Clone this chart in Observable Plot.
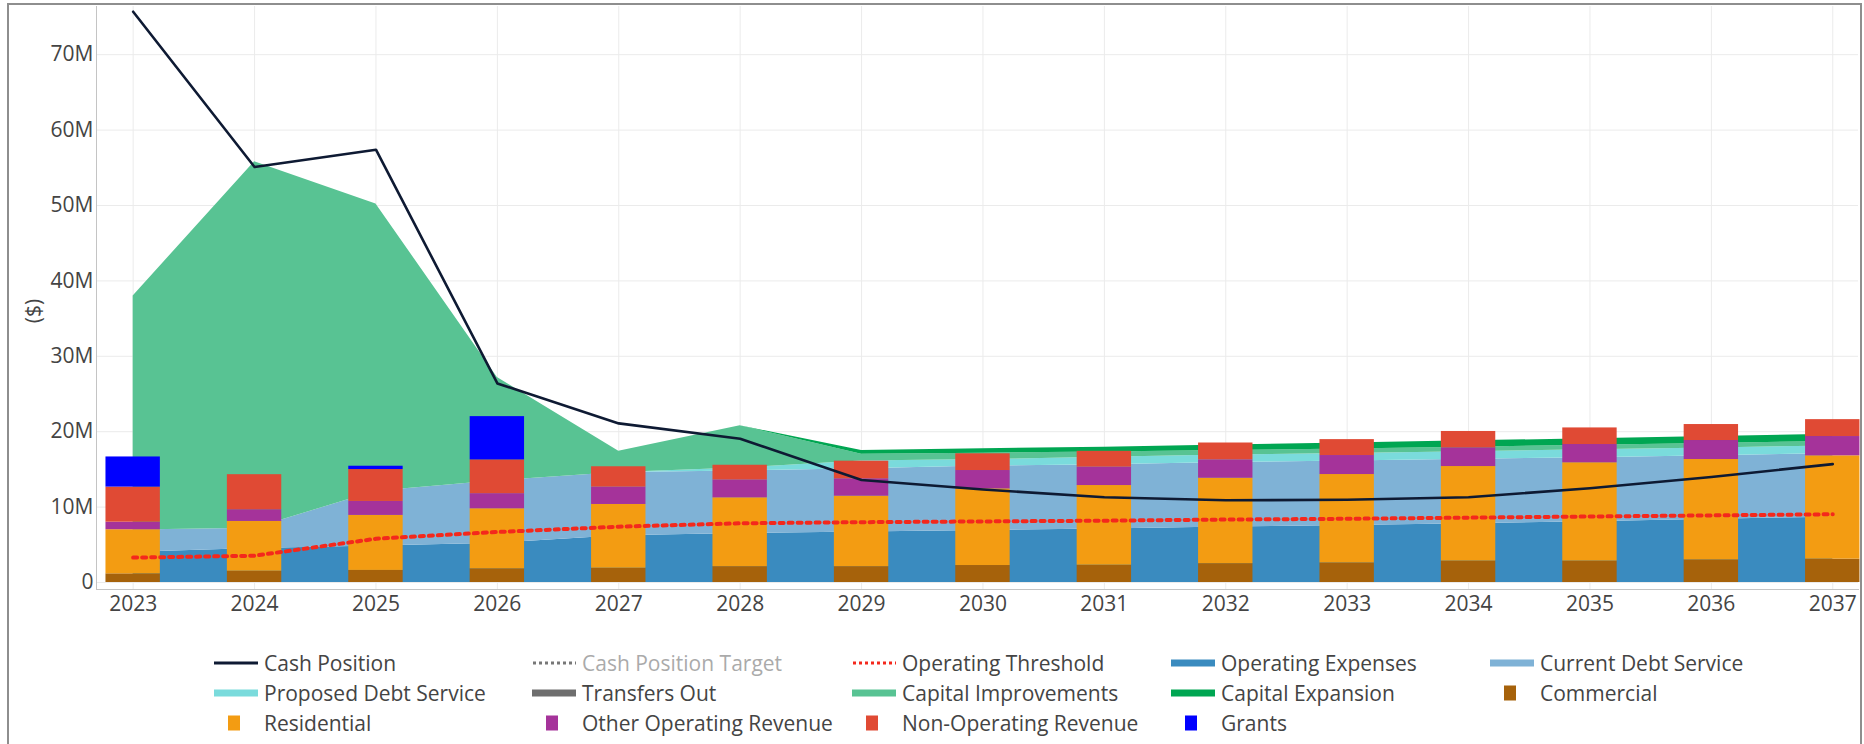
<!DOCTYPE html>
<html>
<head>
<meta charset="utf-8">
<script src="https://cdn.jsdelivr.net/npm/d3@7"></script>
<script src="https://cdn.jsdelivr.net/npm/@observablehq/plot@0.6"></script>
<style>
  html, body { margin: 0; padding: 0; background: #fff; }
  body { width: 1864px; height: 744px; position: relative; overflow: hidden; font-family: "Open Sans", sans-serif; }
  #frame { position: absolute; left: 7px; top: 3px; width: 1855px; height: 800px; border: 2px solid #8e8e8e; box-sizing: border-box; }
  #chart { position: absolute; left: 0; top: 0; }
  #ylabel { position: absolute; left: 33px; top: 311px; transform: translate(-50%, -50%) rotate(-90deg); font-size: 21px; color: #444; white-space: nowrap; }
  .item { position: absolute; height: 30px; display: flex; align-items: center; font-size: 21px; color: #444; white-space: nowrap; }
  .item svg { flex: none; }
</style>
</head>
<body>
<div id="frame"></div>
<div id="chart"></div>
<div id="ylabel">($)</div>
<div id="legend"></div>
<script>
// ---------- data (millions of $) ----------
const years = [2023, 2024, 2025, 2026, 2027, 2028, 2029, 2030, 2031, 2032, 2033, 2034, 2035, 2036, 2037];

// stacked area series (expenses / uses)
const operatingExpenses   = [4.0, 4.5, 4.85, 5.2, 6.2, 6.5, 6.7, 6.9, 7.1, 7.35, 7.55, 7.8, 8.05, 8.4, 8.65];
const currentDebtService  = [2.95, 2.7, 7.25, 8.3, 8.4, 8.3, 8.4, 8.55, 8.5, 8.55, 8.55, 8.55, 8.5, 8.4, 8.45];
const proposedDebtService = [0, 0, 0, 0, 0, 0.4, 1.0, 0.85, 1.0, 1.0, 1.0, 1.0, 1.05, 1.05, 1.0];
const transfersOut        = [0, 0, 0, 0, 0, 0, 0, 0, 0, 0, 0, 0, 0, 0, 0];
const capitalImprovements = [31.05, 48.6, 38.1, 13.7, 2.8, 5.6, 0.9, 0.85, 0.7, 0.6, 0.6, 0.6, 0.6, 0.6, 0.6];
const capitalExpansion    = [0, 0, 0, 0, 0, 0, 0.5, 0.6, 0.65, 0.75, 0.8, 0.85, 0.85, 0.9, 0.95];

// stacked bar series (revenues)
const commercial            = [1.15, 1.5, 1.6, 1.82, 1.9, 2.1, 2.1, 2.25, 2.3, 2.5, 2.6, 2.85, 2.85, 3.0, 3.1];
const residential           = [5.85, 6.6, 7.3, 7.96, 8.45, 9.13, 9.35, 10.17, 10.56, 11.33, 11.72, 12.53, 13.03, 13.31, 13.7];
const otherOperatingRevenue = [1.0, 1.55, 1.85, 2.0, 2.3, 2.37, 2.3, 2.43, 2.44, 2.44, 2.52, 2.48, 2.42, 2.52, 2.56];
const nonOperatingRevenue   = [4.65, 4.65, 4.23, 4.48, 2.7, 1.95, 2.34, 2.22, 2.1, 2.23, 2.11, 2.17, 2.2, 2.12, 2.24];
const grants                = [4.0, 0, 0.44, 5.74, 0, 0, 0, 0, 0, 0, 0, 0, 0, 0, 0];

// lines
const cashPosition       = [75.7, 55.1, 57.4, 26.4, 21.1, 19.06, 13.6, 12.33, 11.3, 10.9, 10.97, 11.3, 12.5, 14.0, 15.7];
const operatingThreshold = [3.3, 3.55, 5.8, 6.7, 7.4, 7.85, 8.0, 8.1, 8.2, 8.35, 8.45, 8.6, 8.75, 8.9, 9.05];

// y tick values
const yTicks = [0, 10, 20, 30, 40, 50, 60, 70];

// ---------- series meta ----------
const areaSeries = [
  {name: "Operating Expenses",    values: operatingExpenses,   color: "#3a8bbf"},
  {name: "Current Debt Service",  values: currentDebtService,  color: "#7fb2d6"},
  {name: "Proposed Debt Service", values: proposedDebtService, color: "#7adbdc"},
  {name: "Transfers Out",         values: transfersOut,        color: "#6e6e6e"},
  {name: "Capital Improvements",  values: capitalImprovements, color: "#58c393"},
  {name: "Capital Expansion",     values: capitalExpansion,    color: "#00a652"}
];
const barSeries = [
  {name: "Commercial",              values: commercial,            color: "#a6620b"},
  {name: "Residential",             values: residential,           color: "#f39c12"},
  {name: "Other Operating Revenue", values: otherOperatingRevenue, color: "#a5339a"},
  {name: "Non-Operating Revenue",   values: nonOperatingRevenue,   color: "#e04a34"},
  {name: "Grants",                  values: grants,                color: "#0000ff"}
];
const cashColor = "#0e1a33";
const thresholdColor = "#f4281c";

// ---------- build stacked tables ----------
function stack(series) {
  const base = years.map(() => 0);
  return series.map(s => {
    const rows = years.map((year, i) => {
      const y1 = base[i];
      const y2 = y1 + s.values[i];
      base[i] = y2;
      return {year, y1, y2, name: s.name};
    });
    return {...s, rows};
  });
}
const areaStack = stack(areaSeries);
const barStack = stack(barSeries);
const BAR_HALF = 0.224;

const marks = [
  Plot.gridX(years, {stroke: "#ebebeb", strokeOpacity: 1, strokeWidth: 1}),
  Plot.gridY(yTicks, {stroke: "#ebebeb", strokeOpacity: 1, strokeWidth: 1})
];
for (const s of areaStack) {
  marks.push(Plot.areaY(s.rows, {x: "year", y1: "y1", y2: "y2", fill: s.color, fillOpacity: 1}));
}
for (const s of barStack) {
  marks.push(Plot.rect(s.rows.filter(d => d.y2 > d.y1), {
    x1: d => d.year - BAR_HALF, x2: d => d.year + BAR_HALF, y1: "y1", y2: "y2", fill: s.color
  }));
}
marks.push(
  Plot.line(years.map((year, i) => ({year, v: operatingThreshold[i]})), {
    x: "year", y: "v", stroke: thresholdColor, strokeWidth: 4, strokeDasharray: "4,5"
  }),
  Plot.line(years.map((year, i) => ({year, v: cashPosition[i]})), {
    x: "year", y: "v", stroke: cashColor, strokeWidth: 2.6
  }),
  Plot.frame({anchor: "left", stroke: "#c4c4c4"}),
  Plot.frame({anchor: "bottom", stroke: "#c4c4c4"}),
  Plot.axisX(years, {tickSize: 0, tickPadding: 7, tickFormat: d => String(d), fontSize: 21, fill: "#444", label: null}),
  Plot.axisY(yTicks, {tickSize: 0, tickPadding: 3, tickFormat: d => d === 0 ? "0" : d + "M", fontSize: 21, fill: "#444", label: null})
);

const chart = Plot.plot({
  width: 1864,
  height: 625,
  marginLeft: 96,
  marginRight: 6,
  marginTop: 6,
  marginBottom: 36,
  x: {type: "linear", domain: [2022.698, 2037.212]},
  y: {domain: [-0.928, 76.39]},
  style: {fontFamily: "'Open Sans', sans-serif", background: "transparent", color: "#444"},
  marks
});
document.getElementById("chart").appendChild(chart);

// ---------- legend ----------
const legendItems = [
  {label: "Cash Position", kind: "line", color: cashColor},
  {label: "Cash Position Target", kind: "dot", color: "#777", muted: true},
  {label: "Operating Threshold", kind: "dot", color: thresholdColor},
  {label: "Operating Expenses", kind: "band", color: areaSeries[0].color},
  {label: "Current Debt Service", kind: "band", color: areaSeries[1].color},
  {label: "Proposed Debt Service", kind: "band", color: areaSeries[2].color},
  {label: "Transfers Out", kind: "band", color: areaSeries[3].color},
  {label: "Capital Improvements", kind: "band", color: areaSeries[4].color},
  {label: "Capital Expansion", kind: "band", color: areaSeries[5].color},
  {label: "Commercial", kind: "square", color: barSeries[0].color},
  {label: "Residential", kind: "square", color: barSeries[1].color},
  {label: "Other Operating Revenue", kind: "square", color: barSeries[2].color},
  {label: "Non-Operating Revenue", kind: "square", color: barSeries[3].color},
  {label: "Grants", kind: "square", color: barSeries[4].color}
];
const colX = [212, 530, 850, 1169, 1488];
const rowY = [663, 693, 723];
const legend = document.getElementById("legend");
legendItems.forEach((it, i) => {
  const c = i % 5, r = Math.floor(i / 5);
  const div = document.createElement("div");
  div.className = "item";
  div.style.left = colX[c] + "px";
  div.style.top = (rowY[r] - 15) + "px";
  let sw = "";
  if (it.kind === "line") sw = `<line x1="2" x2="46" y1="10" y2="10" stroke="${it.color}" stroke-width="3"/>`;
  else if (it.kind === "dot") sw = `<line x1="3" x2="46" y1="10" y2="10" stroke="${it.color}" stroke-width="3" stroke-dasharray="3,3"/>`;
  else if (it.kind === "band") sw = `<rect x="2" y="6.5" width="44" height="7" fill="${it.color}"/>`;
  else sw = `<rect x="16" y="2.5" width="12" height="15" fill="${it.color}"/>`;
  div.innerHTML = `<svg width="52" height="20">${sw}</svg><span style="${it.muted ? "opacity:0.45" : ""}">${it.label}</span>`;
  legend.appendChild(div);
});
</script>
</body>
</html>
